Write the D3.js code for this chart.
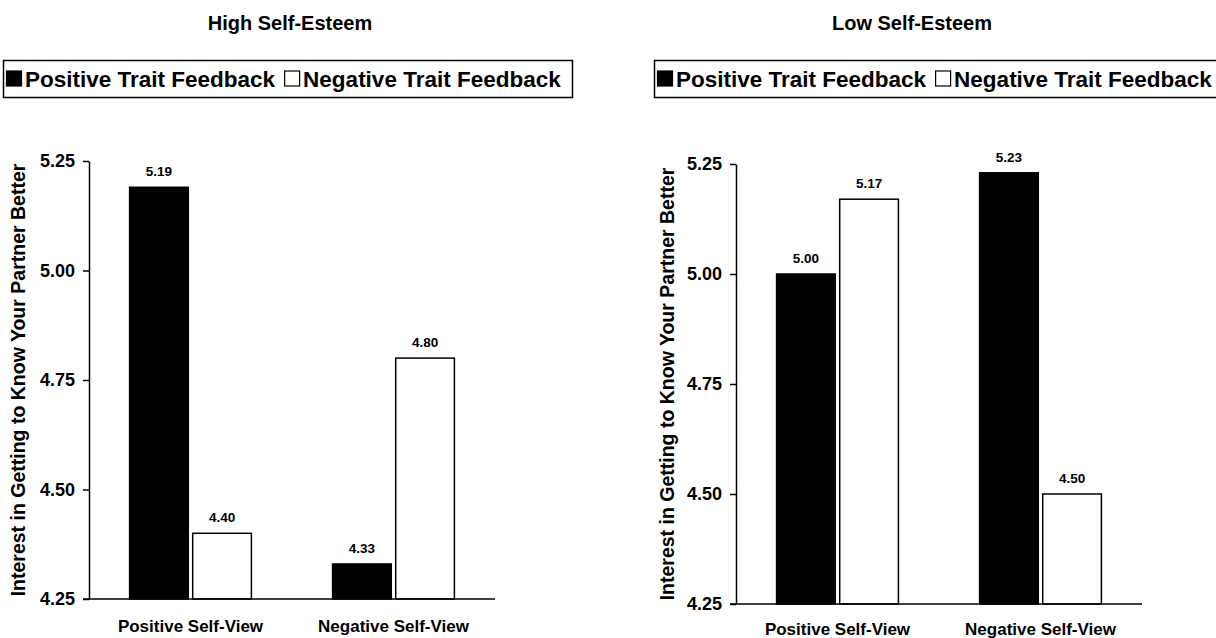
<!DOCTYPE html>
<html><head><meta charset="utf-8">
<script src="https://cdn.jsdelivr.net/npm/d3@7/dist/d3.min.js"></script>
<style>
html,body{margin:0;padding:0;background:#fff;}
svg{display:block;font-family:"Liberation Sans",Arial,Helvetica,sans-serif;font-weight:bold;}
</style></head>
<body>
<svg id="chart" width="1216" height="638"></svg>
<script>
// ---- data ----
const panels = ["High Self-Esteem", "Low Self-Esteem"];
const selfViews = ["Positive Self-View", "Negative Self-View"];
const feedback = ["Positive Trait Feedback", "Negative Trait Feedback"];
const highPositiveFeedback = [5.19, 4.33];
const highNegativeFeedback = [4.40, 4.80];
const lowPositiveFeedback = [5.00, 5.23];
const lowNegativeFeedback = [5.17, 4.50];
const yTicks = [4.25, 4.50, 4.75, 5.00, 5.25];
const yDomain = [4.25, 5.25];
const yLabel = "Interest in Getting to Know Your Partner Better";

const svg = d3.select("#chart");

const layouts = [
  {title: panels[0], pos: highPositiveFeedback, neg: highNegativeFeedback,
   axisX: 89, right: 495, top: 161, bottom: 599, titleX: 290, titleY: 30,
   legX: 3, legY: 60, legW: 569, legH: 37, yLabX: 25, catY: 632},
  {title: panels[1], pos: lowPositiveFeedback, neg: lowNegativeFeedback,
   axisX: 736, right: 1142, top: 164, bottom: 604, titleX: 912, titleY: 30,
   legX: 654, legY: 60, legW: 600, legH: 37, yLabX: 674, catY: 635}
];

layouts.forEach(L => {
  const g = svg.append("g");
  const y = d3.scaleLinear().domain(yDomain).range([L.bottom, L.top]);
  const x0 = d3.scaleBand().domain(selfViews).range([L.axisX, L.right])
    .paddingInner(0.4).paddingOuter(0.2);
  const x1 = d3.scaleBand().domain(feedback).range([0, x0.bandwidth()]).paddingInner(0.07);

  // title
  g.append("text").attr("x", L.titleX).attr("y", L.titleY)
    .attr("text-anchor", "middle").attr("font-size", 20).text(L.title);

  // legend
  const lg = g.append("g").attr("transform", `translate(${L.legX},${L.legY})`);
  lg.append("rect").attr("x", 0.5).attr("y", 0.5).attr("width", L.legW).attr("height", L.legH)
    .attr("fill", "none").attr("stroke", "#000").attr("stroke-width", 1.5);
  let cx = 3;
  feedback.forEach((f, i) => {
    lg.append("rect").attr("x", cx + 0.5).attr("y", 11).attr("width", 15).attr("height", 15)
      .attr("fill", i === 0 ? "#000" : "#fff").attr("stroke", "#000").attr("stroke-width", 1.2);
    const t = lg.append("text").attr("x", cx + 19).attr("y", 26.5).attr("font-size", 22.5).text(f);
    cx += 19 + t.node().getComputedTextLength() + 9;
  });

  // y axis
  const yAxis = d3.axisLeft(y).tickValues(yTicks).tickFormat(d3.format(".2f"))
    .tickSize(6).tickSizeOuter(0).tickPadding(8);
  const ya = g.append("g").attr("transform", `translate(${L.axisX},0)`).call(yAxis);
  ya.selectAll("text").attr("font-size", 18).attr("font-family", "Liberation Sans, Arial, sans-serif")
    .attr("font-weight", "bold").attr("fill", "#000");
  ya.selectAll("line").attr("stroke", "#000").attr("stroke-width", 1.5);
  ya.select(".domain").attr("stroke", "#000").attr("stroke-width", 1.5);

  // y label
  g.append("text").attr("transform", `translate(${L.yLabX},${(L.top + L.bottom) / 2}) rotate(-90)`)
    .attr("text-anchor", "middle").attr("font-size", 19.5).text(yLabel);

  // bars
  const groups = g.selectAll(".grp").data(selfViews).enter().append("g")
    .attr("transform", d => `translate(${x0(d)},0)`);
  groups.each(function(sv, si) {
    const vals = [L.pos[si], L.neg[si]];
    const gg = d3.select(this);
    gg.selectAll("rect").data(vals).enter().append("rect")
      .attr("x", (d, i) => x1(feedback[i]))
      .attr("y", d => y(d))
      .attr("width", x1.bandwidth())
      .attr("height", d => y(yDomain[0]) - y(d))
      .attr("fill", (d, i) => i === 0 ? "#000" : "#fff")
      .attr("stroke", "#000").attr("stroke-width", 1.5);
    gg.selectAll("text.val").data(vals).enter().append("text").attr("class", "val")
      .attr("x", (d, i) => x1(feedback[i]) + x1.bandwidth() / 2)
      .attr("y", d => y(d) - 11)
      .attr("text-anchor", "middle").attr("font-size", 13.5)
      .text(d => d3.format(".2f")(d));
  });

  // x axis line
  g.append("line").attr("x1", L.axisX - 6).attr("x2", L.right)
    .attr("y1", L.bottom).attr("y2", L.bottom).attr("stroke", "#000").attr("stroke-width", 1.5);

  // category labels
  g.selectAll(".cat").data(selfViews).enter().append("text")
    .attr("x", d => x0(d) + x0.bandwidth() / 2).attr("y", L.catY)
    .attr("text-anchor", "middle").attr("font-size", 17).text(d => d);
});
</script>
</body></html>
